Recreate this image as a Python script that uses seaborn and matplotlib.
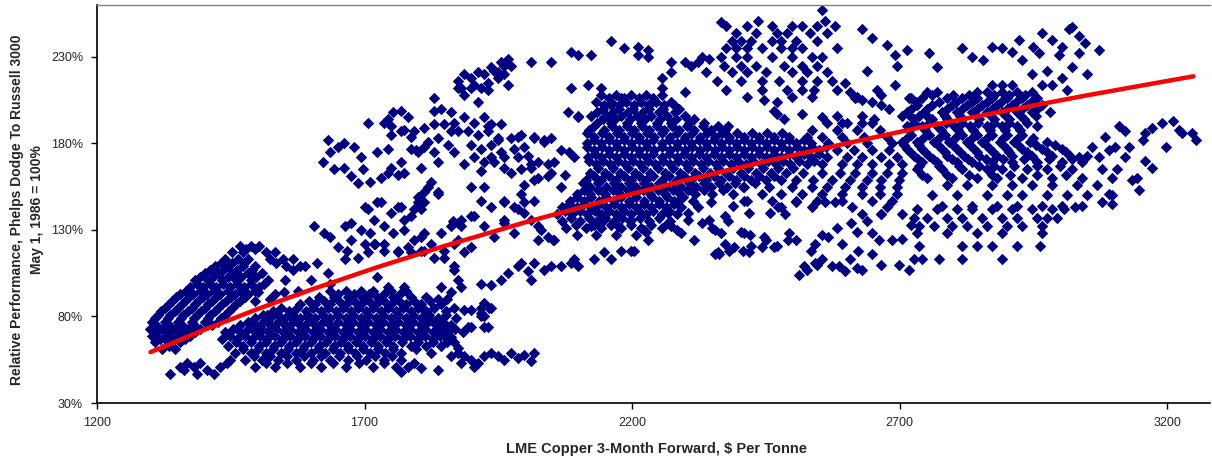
import pandas as pd
import numpy as np
import seaborn as sns
import matplotlib.pyplot as plt

# ---- data (x = $ per tonne, y = relative performance %) ----

# left blob, rows of (y, [x...])
left_blob_rows = [
    (121, [1468, 1487, 1502]),
    (119, [1478, 1495]),
    (117, [1453, 1473, 1515, 1533]),
    (113, [1440, 1464, 1483, 1524, 1547, 1567]),
    (111, [1432, 1452, 1475, 1535]),
    (109, [1421, 1445, 1472, 1496, 1553, 1580]),
    (107, [1412, 1436, 1462, 1490, 1566]),
    (105, [1402, 1426, 1453, 1483, 1509]),
    (103, [1393, 1417, 1444, 1470, 1497]),
    (101, [1384, 1408, 1434, 1460, 1487, 1520, 1552]),
    (99, [1386, 1411, 1436, 1462, 1488, 1512]),
    (97, [1374, 1399, 1423, 1449, 1474, 1502]),
    (95, [1366, 1392, 1418, 1444, 1470, 1495]),
    (93, [1355, 1380, 1406, 1430, 1457, 1483, 1533]),
    (91, [1348, 1372, 1398, 1423, 1450, 1476]),
    (89, [1341, 1365, 1389, 1415, 1442, 1468, 1496]),
    (87, [1334, 1358, 1384, 1408, 1434, 1460]),
    (85, [1327, 1352, 1378, 1402, 1426, 1453]),
    (83, [1320, 1345, 1370, 1395, 1420, 1446]),
    (81, [1314, 1337, 1361, 1387, 1412, 1440]),
    (79, [1308, 1332, 1357, 1382, 1407, 1432]),
    (77, [1303, 1327, 1352, 1378, 1402, 1426]),
    (75, [1310, 1334, 1358, 1382, 1414]),
    (73, [1299, 1322, 1346, 1370, 1393]),
    (71, [1310, 1336, 1360, 1384]),
    (69, [1303, 1327, 1352, 1374]),
    (67, [1318, 1342, 1364]),
    (65, [1309, 1333, 1355]),
    (63, [1334]),
    (61, [1322, 1346]),
]

# dense lower band 1450-1900
lower_band_rows = [
    (95, [1636, 1665, 1693, 1715, 1749, 1777]),
    (93, [1650, 1680, 1708, 1736, 1766]),
    (91, [1614, 1642, 1670, 1696, 1724, 1754, 1786, 1814]),
    (89, [1596, 1624, 1652, 1680, 1708, 1736, 1764, 1792, 1822]),
    (87, [1580, 1608, 1636, 1665, 1693, 1721, 1749, 1777, 1805, 1842]),
    (85, [1544, 1574, 1604, 1632, 1660, 1688, 1716, 1744, 1772, 1800, 1830]),
    (83, [1528, 1558, 1590, 1618, 1646, 1674, 1702, 1730, 1758, 1786, 1814, 1852]),
    (81, [1510, 1538, 1566, 1594, 1622, 1650, 1679, 1707, 1735, 1763, 1791, 1820, 1852]),
    (79, [1496, 1524, 1552, 1580, 1608, 1636, 1665, 1693, 1721, 1749, 1777, 1805, 1837, 1871]),
    (77, [1482, 1510, 1538, 1566, 1594, 1622, 1650, 1679, 1707, 1735, 1763, 1791, 1819, 1847]),
    (75, [1468, 1496, 1524, 1552, 1580, 1608, 1636, 1665, 1693, 1721, 1749, 1777, 1805, 1833, 1861]),
    (73, [1454, 1482, 1508, 1534, 1561, 1589, 1617, 1645, 1673, 1701, 1729, 1757, 1785, 1813, 1841, 1869]),
    (71, [1440, 1468, 1496, 1520, 1547, 1575, 1603, 1631, 1659, 1687, 1715, 1743, 1771, 1799, 1827, 1855, 1884]),
    (69, [1448, 1476, 1504, 1532, 1561, 1589, 1617, 1645, 1673, 1701, 1729, 1757, 1785, 1813, 1841]),
    (67, [1434, 1462, 1490, 1518, 1547, 1575, 1603, 1631, 1659, 1687, 1715, 1743, 1771, 1799, 1827, 1855]),
    (65, [1459, 1487, 1516, 1544, 1572, 1600, 1628, 1656, 1684, 1712, 1740, 1770, 1800, 1828]),
    (63, [1445, 1473, 1502, 1530, 1558, 1586, 1614, 1642, 1670, 1698, 1726, 1754, 1786, 1814, 1842]),
    (61, [1472, 1501, 1529, 1557, 1585, 1613, 1641, 1669, 1697, 1725, 1753, 1796]),
    (59, [1458, 1487, 1515, 1543, 1571, 1599, 1627, 1655, 1683, 1711, 1739, 1768, 1824]),
    (57, [1493, 1524, 1555, 1587, 1619, 1653, 1686, 1719, 1752]),
    (55, [1477, 1509, 1539, 1571, 1603, 1636, 1670, 1702, 1736, 1768]),
    (53, [1515, 1556, 1599, 1641, 1690, 1737]),
    (51, [1496, 1533, 1580, 1618, 1665, 1715, 1758]),
]

lower_band_edge = [
    (1724, 103), (1743, 97), (1773, 97), (1842, 97), (1861, 94), (1880, 97), (1874, 101),
    (1855, 90), (1886, 84), (1917, 82), (1932, 85), (1899, 74), (1923, 74), (1861, 68),
    (1867, 65), (1855, 65), (1874, 62), (1811, 84), (1837, 90), (1867, 85), (1899, 84),
    (1923, 80), (1893, 74), (1855, 74), (1824, 78), (1917, 85), (1923, 88), (1936, 85),
    (1917, 80), (1930, 74),
    (1500, 94), (1524, 90), (1550, 94), (1575, 95), (1593, 80), (1569, 78), (1518, 81),
    (1588, 109), (1612, 111), (1631, 105), (1599, 101), (1636, 99),
]

bottom_strands = [
    (1337, 47), (1355, 51), (1369, 53), (1382, 51), (1393, 53), (1406, 49), (1419, 47),
    (1430, 51), (1443, 53), (1449, 55), (1363, 49), (1387, 47),
    (1768, 48), (1781, 51), (1792, 53), (1805, 50), (1837, 49), (1861, 57), (1874, 59),
    (1886, 57), (1899, 55), (1912, 53), (1923, 57), (1936, 59), (1949, 57), (1960, 55),
    (1974, 59), (1987, 56), (1998, 58), (2017, 59), (2011, 54), (1880, 53), (1904, 51),
]

mid_band = [
    (1606, 132), (1625, 128), (1636, 126), (1663, 132), (1674, 134), (1693, 130), (1711, 128),
    (1650, 120), (1668, 118), (1687, 114), (1706, 117), (1719, 122), (1674, 124), (1700, 122),
    (1663, 113), (1700, 143),
    (1706, 142), (1730, 146), (1749, 140), (1768, 143), (1786, 138), (1805, 142), (1717, 136),
    (1736, 132), (1754, 128), (1773, 130), (1792, 124), (1811, 128), (1736, 122), (1762, 118),
    (1786, 117), (1805, 118), (1824, 122), (1842, 128), (1861, 132), (1880, 136), (1904, 138),
    (1923, 132), (1874, 124), (1899, 120), (1848, 114), (1799, 149), (1818, 155), (1837, 151),
    (1899, 155), (1923, 155), (1917, 147), (1936, 143),
    (1724, 146), (1762, 143), (1773, 136), (1792, 142), (1811, 146), (1717, 122), (1736, 118),
    (1762, 117), (1781, 120), (1805, 126), (1811, 118), (1829, 114), (1848, 118), (1867, 122),
    (1886, 117), (1867, 109), (1899, 138), (1874, 134),
    (1960, 146), (1987, 142), (1960, 134), (1979, 128), (1942, 126), (2024, 132), (2024, 124),
    (2054, 124), (1998, 146),
    (2099, 134), (2123, 132), (2148, 136), (2174, 132), (2198, 136), (2223, 130), (2230, 124),
    (2204, 118), (2129, 113), (2161, 113),
    (1960, 147), (1979, 143), (1998, 140), (2011, 136), (2030, 130), (2043, 126), (2052, 124),
    (2017, 147), (1960, 136), (1865, 135), (1880, 132),
]

lower_strand = [
    (1917, 99), (1936, 98), (1955, 101), (1968, 105), (1987, 109), (1992, 111), (2005, 106),
    (2011, 101), (2017, 111), (2035, 107), (2049, 109), (2067, 109), (2086, 111), (2099, 109),
    (2092, 113), (2148, 117), (2180, 118), (2198, 118), (1867, 107),
]

upper_cloud = [
    (1623, 169), (1636, 175), (1650, 178), (1661, 180), (1680, 178), (1693, 172), (1642, 165),
    (1661, 166), (1674, 161), (1698, 165), (1687, 157), (1711, 158), (1631, 182), (1706, 192),
    (1743, 194), (1754, 198), (1768, 199), (1781, 195), (1749, 190), (1773, 188), (1786, 184),
    (1724, 175), (1743, 163), (1762, 162), (1773, 163), (1796, 176), (1811, 178),
    (1736, 192), (1792, 187), (1768, 187), (1749, 185),
    (1811, 189), (1829, 191), (1848, 191), (1861, 187), (1837, 183), (1818, 181), (1856, 179),
    (1867, 175), (1829, 175),
    (1867, 192), (1886, 195), (1904, 192), (1923, 195), (1936, 191), (1955, 191), (1874, 187),
    (1893, 187), (1912, 185), (1930, 187), (1949, 183), (1899, 179), (1917, 177), (1936, 179),
    (1955, 175), (1904, 172), (1923, 169), (1942, 169), (1960, 172), (1917, 164), (1886, 168),
    (1974, 183), (1992, 185), (2017, 183), (2035, 181), (2048, 183), (1979, 177), (2005, 173),
    (2024, 169), (2043, 168), (2054, 169), (2011, 168),
    (1743, 177), (1768, 169), (1786, 177), (1799, 175), (1749, 166), (1805, 166), (1837, 169),
    (1824, 158), (1811, 152), (1837, 152), (1799, 146), (1730, 160),
    (1987, 172), (2011, 166), (2024, 160), (1998, 156), (2048, 163), (1974, 163),
    (1930, 190), (1949, 182), (1936, 172), (1960, 166), (1987, 184), (1998, 178), (2017, 184),
    (2035, 182), (1992, 165), (2017, 159), (2043, 161), (2080, 198), (2099, 195),
    (2082, 175), (2092, 172), (2067, 155), (1992, 151), (2067, 176), (2075, 162),
]

upper_top = [
    (1829, 206), (1842, 200), (1861, 198), (1829, 199), (1874, 212), (1886, 208), (1912, 204),
    (1899, 212), (1874, 216), (1886, 220), (1899, 218), (1912, 221), (1923, 220), (1936, 224),
    (1949, 221), (1960, 225), (1968, 229), (1974, 225), (1955, 227), (1880, 212), (1904, 214),
    (1930, 215), (1949, 218), (1917, 212), (1960, 220), (1942, 222), (1968, 214), (1930, 211),
    (2011, 227), (2049, 227), (2086, 233), (2123, 231), (2161, 239), (2185, 235), (2211, 236),
    (2211, 231), (2099, 231), (2230, 234), (2273, 227), (2298, 227), (2324, 227), (2343, 229),
    (2230, 230), (2255, 218), (2273, 221), (2298, 210), (2279, 202), (2298, 196), (2255, 212),
    (2230, 202), (2086, 212), (2099, 196), (2118, 214), (2142, 212), (2161, 202), (2180, 206),
    (2148, 195),
]

top_cloud_rows = [
    (248, [2376, 2414, 2461, 2498, 2517, 2545, 2579]),
    (244, [2395, 2432, 2470, 2489, 2532, 2564]),
    (239, [2386, 2404, 2423, 2461, 2479, 2507, 2545]),
    (235, [2376, 2395, 2414, 2442, 2479, 2498, 2517, 2582]),
    (230, [2330, 2367, 2395, 2414, 2461, 2498, 2536, 2554]),
    (225, [2311, 2371, 2404, 2432, 2483, 2517, 2545]),
    (221, [2339, 2386, 2414, 2451, 2498, 2526, 2564]),
    (216, [2358, 2404, 2442, 2475, 2517, 2545, 2573]),
    (211, [2376, 2442, 2489, 2517, 2540, 2582]),
    (207, [2414, 2498, 2536, 2620]),
]
top_peaks = [(2555, 257), (2367, 250), (2436, 251), (2560, 251)]

core_rows = [
    (208, [2142, 2170, 2198, 2226, 2255]),
    (206, [2156, 2184, 2212, 2240]),
    (204, [2133, 2161, 2189, 2217, 2245, 2273]),
    (202, [2147, 2175, 2203, 2231, 2259]),
    (200, [2146, 2176, 2202, 2232, 2258, 2288]),
    (198, [2135, 2165, 2193, 2221, 2251, 2280]),
    (196, [2124, 2154, 2180, 2210, 2236, 2266, 2298]),
    (194, [2146, 2168, 2196, 2224, 2252, 2282, 2316]),
    (192, [2135, 2161, 2191, 2217, 2247, 2273, 2307, 2335]),
    (190, [2128, 2162, 2190, 2218, 2246, 2274, 2302, 2332, 2360]),
    (188, [2120, 2148, 2176, 2204, 2232, 2260, 2288, 2316, 2348, 2373]),
    (186, [2115, 2143, 2171, 2199, 2227, 2255, 2284, 2312, 2340, 2368, 2396, 2424, 2452, 2480]),
    (184, [2129, 2157, 2185, 2213, 2241, 2270, 2298, 2326, 2354, 2382, 2410, 2438, 2466, 2494]),
    (182, [2129, 2156, 2184, 2212, 2240, 2269, 2297, 2325, 2353, 2381, 2409, 2437, 2465, 2493, 2521]),
    (180, [2116, 2142, 2170, 2198, 2226, 2255, 2283, 2311, 2339, 2367, 2395, 2423, 2451, 2479, 2507, 2535]),
    (178, [2115, 2143, 2171, 2199, 2227, 2255, 2284, 2312, 2340, 2368, 2396, 2424, 2452, 2480, 2508, 2536, 2562]),
    (176, [2129, 2157, 2185, 2213, 2241, 2270, 2298, 2326, 2354, 2382, 2410, 2438, 2466, 2494, 2522, 2550]),
    (174, [2130, 2156, 2184, 2212, 2240, 2269, 2297, 2325, 2353, 2381, 2409, 2437, 2465, 2493, 2521, 2549]),
    (172, [2118, 2142, 2170, 2198, 2226, 2255, 2283, 2311, 2339, 2367, 2395, 2423, 2451, 2479, 2507, 2535, 2564]),
    (170, [2120, 2146, 2173, 2201, 2229, 2257, 2285, 2314, 2342, 2370, 2398, 2426, 2454, 2482, 2511, 2540]),
    (168, [2133, 2159, 2187, 2215, 2243, 2271, 2300, 2328, 2356, 2384, 2412, 2440, 2468, 2496, 2526, 2554]),
    (166, [2136, 2164, 2192, 2220, 2248, 2276, 2304, 2332, 2360, 2389, 2417, 2445, 2473, 2500]),
    (163, [2122, 2150, 2178, 2206, 2234, 2262, 2290, 2318, 2346, 2375, 2403, 2431, 2459, 2487]),
    (161, [2128, 2156, 2184, 2212, 2240, 2269, 2297, 2325, 2353, 2381, 2409, 2437, 2465]),
    (159, [2114, 2142, 2170, 2198, 2226, 2255, 2283, 2311, 2339, 2367, 2395, 2423, 2451, 2479]),
    (157, [2108, 2137, 2166, 2194, 2222, 2250, 2278, 2306, 2334, 2362, 2392, 2430]),
    (155, [2122, 2152, 2180, 2208, 2236, 2264, 2292, 2320, 2348, 2377, 2408, 2455]),
    (153, [2110, 2136, 2164, 2192, 2220, 2248, 2276, 2304, 2334, 2369]),
    (151, [2097, 2122, 2150, 2178, 2206, 2234, 2262, 2290, 2318, 2350, 2388]),
    (149, [2097, 2124, 2152, 2180, 2208, 2237, 2265, 2296]),
    (147, [2084, 2110, 2138, 2166, 2194, 2223, 2251, 2279, 2313]),
    (145, [2083, 2110, 2138, 2166, 2194, 2222, 2250, 2278]),
    (143, [2069, 2097, 2124, 2152, 2180, 2208, 2236, 2264, 2292]),
    (141, [2074, 2102, 2130, 2156, 2184, 2212, 2240, 2269]),
    (139, [2060, 2088, 2116, 2142, 2170, 2198, 2226, 2255, 2283]),
    (137, [2086, 2119, 2150, 2181, 2214, 2250]),
    (135, [2069, 2103, 2135, 2166, 2196, 2232, 2270]),
    (133, [2095, 2128, 2161, 2198, 2236]),
    (131, [2077, 2114, 2142, 2180, 2217, 2255]),
    (127, [2097, 2133, 2170, 2208]),
]

core_right_rows = [
    (196, [2582, 2629]),
    (192, [2564, 2601, 2648]),
    (188, [2536, 2582, 2620, 2663]),
    (184, [2526, 2554, 2592, 2633, 2676]),
    (180, [2567, 2601, 2639, 2685]),
    (176, [2582, 2614, 2648, 2681]),
    (172, [2601, 2629, 2666, 2695]),
    (168, [2592, 2620, 2648, 2680, 2704]),
    (163, [2520, 2554, 2588, 2616, 2648, 2676, 2704]),
    (159, [2507, 2539, 2573, 2607, 2639, 2666, 2698]),
    (155, [2498, 2536, 2564, 2597, 2629, 2663, 2695]),
    (151, [2442, 2479, 2517, 2554, 2592, 2629, 2663, 2695]),
    (147, [2414, 2461, 2507, 2545, 2592, 2648, 2685]),
    (143, [2479, 2536, 2611, 2676]),
    (139, [2629, 2666, 2704]),
]

core_top_right = [
    (2447, 205), (2466, 199), (2517, 197), (2554, 195), (2592, 192), (2483, 194), (2380, 190),
    (2597, 215), (2607, 210), (2616, 206), (2648, 204), (2666, 208), (2691, 214), (2717, 206),
    (2680, 200), (2704, 196), (2736, 196), (2653, 194), (2629, 192),
    (2639, 222), (2657, 211), (2629, 205), (2666, 202),
    (2629, 246), (2648, 241), (2676, 237), (2691, 231), (2714, 234), (2695, 225),
    (2470, 204), (2470, 197),
]

core_below = [
    (2286, 147), (2305, 140), (2324, 143), (2343, 136), (2354, 130), (2373, 138), (2367, 128),
    (2391, 120), (2361, 117), (2410, 128), (2292, 128), (2316, 124), (2273, 132), (2268, 140),
    (2410, 155), (2410, 147),
    (2226, 129), (2268, 134), (2283, 130), (2305, 136), (2330, 134), (2349, 131), (2380, 135),
    (2354, 116), (2373, 122), (2404, 129), (2418, 117), (2420, 127), (2348, 146),
    (2389, 144), (2418, 140), (2457, 140), (2485, 139), (2473, 143), (2507, 146), (2560, 146),
    (2579, 146),
    (2451, 124), (2442, 120), (2470, 121), (2494, 128), (2423, 121), (2408, 118), (2363, 116),
    (2382, 118), (2447, 126), (2466, 120), (2492, 124),
]

mid_right_strand = [
    (2507, 124), (2535, 118), (2554, 127), (2582, 131), (2592, 122), (2620, 129), (2639, 135),
    (2666, 139), (2685, 124), (2704, 125), (2722, 133), (2648, 116), (2607, 113), (2597, 106),
    (2620, 108), (2573, 109), (2545, 110), (2526, 107), (2511, 104), (2629, 107), (2666, 110),
    (2698, 110), (2717, 107),
    (2522, 109), (2541, 111), (2554, 113), (2586, 109), (2541, 122), (2567, 126),
    (2610, 134), (2623, 118), (2648, 128), (2661, 124),
]

right_band_rows = [
    (214, [2873, 2891, 2910, 2966]),
    (210, [2751, 2770, 2845, 2863, 2891, 2920, 2948]),
    (208, [2760, 2800, 2830, 2876, 2905, 2935]),
    (206, [2722, 2741, 2788, 2816, 2845, 2873, 2901, 2929, 2957]),
    (204, [2731, 2774, 2806, 2835, 2864, 2890, 2918, 2946]),
    (202, [2732, 2760, 2798, 2826, 2854, 2882, 2910, 2938, 2966]),
    (200, [2722, 2752, 2788, 2816, 2844, 2872, 2900, 2928, 2956]),
    (198, [2713, 2745, 2779, 2807, 2835, 2863, 2891, 2920, 2948, 2981]),
    (196, [2720, 2752, 2784, 2812, 2842, 2870, 2898, 2926, 2955]),
    (194, [2727, 2760, 2788, 2816, 2849, 2877, 2905, 2932]),
    (192, [2727, 2755, 2786, 2816, 2847, 2877, 2905, 2938]),
    (190, [2713, 2741, 2770, 2802, 2831, 2863, 2891, 2920, 2957]),
    (188, [2717, 2748, 2777, 2809, 2838, 2868, 2896, 2924]),
    (185, [2722, 2755, 2784, 2816, 2845, 2873, 2901, 2929]),
    (183, [2713, 2743, 2774, 2804, 2835, 2863, 2894, 2921, 2950]),
    (181, [2704, 2732, 2764, 2793, 2826, 2854, 2887, 2914, 2943, 2976]),
    (179, [2708, 2736, 2771, 2800, 2832, 2861, 2894, 2921, 2955, 2990]),
    (177, [2713, 2741, 2779, 2807, 2839, 2869, 2901, 2929, 2966, 3004]),
    (175, [2720, 2748, 2784, 2813, 2844, 2875, 2905, 2938, 2975, 3010]),
    (173, [2727, 2755, 2788, 2820, 2849, 2882, 2910, 2948, 2985, 3019, 3051]),
    (171, [2734, 2762, 2797, 2827, 2861, 2894, 2932, 2980, 3022]),
    (169, [2741, 2770, 2807, 2835, 2873, 2910, 2957, 3004, 3041]),
    (167, [2736, 2774, 2811, 2849, 2877, 2914, 2957, 3000]),
    (165, [2732, 2779, 2816, 2863, 2891, 2938, 2976, 3022, 3079, 3107]),
    (162, [2742, 2788, 2830, 2872, 2906, 2957, 3010]),
    (160, [2751, 2798, 2845, 2882, 2929, 2985, 3041, 3097, 3144]),
    (156, [2788, 2826, 2873, 2910, 2948, 2985, 3032, 3069]),
    (150, [2760, 2807, 2863, 2901, 2929, 2976, 3013, 3051, 3097]),
    (144, [2779, 2835, 2882, 2920, 2966, 3004, 3041]),
]

right_low_rows = [
    (142, [2732, 2770, 2807, 2835, 2873, 2910, 2948, 2985, 3007]),
    (137, [2727, 2751, 2788, 2816, 2854, 2891, 2920, 2957, 2976, 2995]),
    (132, [2737, 2764, 2798, 2826, 2863, 2901, 2929, 2966]),
    (128, [2732, 2788, 2845, 2891, 2966]),
    (121, [2737, 2816, 2845, 2873, 2920, 2962]),
    (113, [2727, 2741, 2773, 2816, 2891]),
]

top_arc_right = [
    (2755, 232), (2770, 224), (2816, 235), (2835, 230), (2855, 228), (2873, 236), (2891, 235),
    (2910, 233), (2923, 240), (2950, 236), (2960, 232), (2966, 244), (2985, 240), (3004, 236),
    (3016, 246), (3022, 247), (3035, 242), (3047, 238), (3073, 234), (2998, 231), (3022, 224),
    (3035, 232), (2929, 228), (2948, 220), (2976, 222), (2985, 214), (3004, 218), (3013, 211),
    (3050, 220),
]

right_end = [
    (3079, 146), (3097, 145), (3135, 159), (3148, 153), (3092, 151), (3159, 170), (3172, 166),
    (3197, 178), (3191, 192), (3210, 193), (3223, 188), (3228, 186), (3247, 186), (3253, 182),
    (3159, 186), (3154, 182), (3172, 189), (3110, 190), (3122, 187), (3084, 184), (3092, 176),
    (3103, 178), (3122, 172), (3129, 178), (3073, 172), (3060, 178), (3035, 172), (3028, 143),
]

# fitted trend
trend_x = [1300, 1400, 1500, 1600, 1722, 1850, 2000, 2157, 2300, 2450, 2600, 2735, 2900, 3050, 3249]
trend_y = [59.4, 72.3, 84.3, 95.5, 108.3, 120.8, 134.4, 147.5, 158.7, 169.7, 180.0, 189.0, 199.0, 207.8, 218.8]

y_ticks = [30, 80, 130, 180, 230]
x_ticks = [1200, 1700, 2200, 2700, 3200]


def rows_to_points(rows):
    return [(x, y) for y, xs in rows for x in xs]


pts = []
for rows in (left_blob_rows, lower_band_rows, top_cloud_rows, core_rows,
             core_right_rows, right_band_rows, right_low_rows):
    pts += rows_to_points(rows)
for lst in (lower_band_edge, bottom_strands, mid_band, lower_strand, upper_cloud,
            upper_top, top_peaks, core_top_right, core_below, mid_right_strand,
            top_arc_right, right_end):
    pts += lst

df = pd.DataFrame(pts, columns=['copper', 'perf'])
trend = pd.DataFrame({'copper': trend_x, 'perf': trend_y})

sns.set_theme(style='white')
plt.rcParams['font.family'] = ['Liberation Sans Narrow', 'Liberation Sans', 'DejaVu Sans']

fig = plt.figure(figsize=(12.12, 4.59), dpi=100)
ax = fig.add_axes([97 / 1212, 1 - 403 / 459, 1113 / 1212, 398 / 459])

sns.scatterplot(data=df, x='copper', y='perf', marker='D', s=34, color='#000080',
                linewidth=0, ax=ax, zorder=2)
sns.lineplot(data=trend, x='copper', y='perf', color='#FF0000', linewidth=3.2,
             ax=ax, zorder=3, sort=True)

ax.set_xlim(1200, 3280)
ax.set_ylim(30, 260)
ax.set_xticks(x_ticks)
ax.set_xticklabels([str(v) for v in x_ticks], fontsize=9)
ax.set_yticks(y_ticks)
ax.set_yticklabels([f'{v}%' for v in y_ticks], fontsize=9)
ax.set_xlabel('')
ax.set_ylabel('')

ax.tick_params(axis='both', direction='out', length=4, width=1, color='black',
               bottom=True, left=True, pad=6)
for side in ('left', 'bottom'):
    ax.spines[side].set_color('black')
    ax.spines[side].set_linewidth(1.2)
ax.spines['top'].set_color('#808080')
ax.spines['top'].set_linewidth(1.0)
ax.spines['right'].set_visible(False)

fig.text(27 / 1212, 1 - 210 / 459,
         'Relative Performance, Phelps Dodge To Russell 3000\nMay 1, 1986 = 100%',
         rotation=90, ha='center', va='center', fontsize=10, fontweight='bold',
         multialignment='center', linespacing=1.6)
fig.text(657 / 1212, 1 - 449 / 459, 'LME Copper 3-Month Forward, $ Per Tonne',
         ha='center', va='center', fontsize=10.5, fontweight='bold')

fig.savefig('out.png', dpi=100)
